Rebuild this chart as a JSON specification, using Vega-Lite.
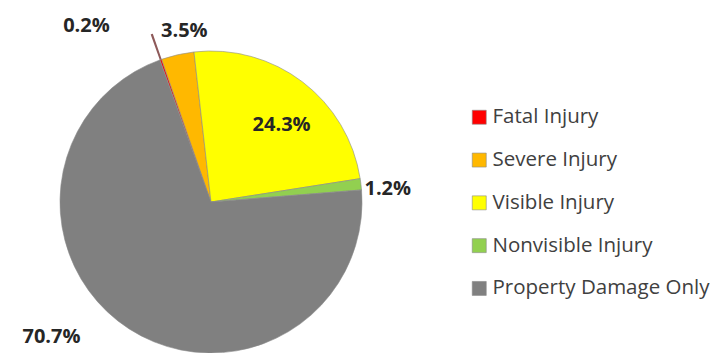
{
  "$schema": "https://vega.github.io/schema/vega-lite/v6.json",
  "width": 422,
  "height": 396,
  "padding": 0,
  "autosize": {"type": "pad"},
  "background": "white",
  "config": {"view": {"stroke": null}, "font": "Open Sans"},
  "data": {
    "values": [
      {"cat": "Fatal Injury", "pct": 0.2, "rank": 1, "label": "0.2%"},
      {"cat": "Severe Injury", "pct": 3.5, "rank": 2, "label": "3.5%"},
      {"cat": "Visible Injury", "pct": 24.3, "rank": 3, "label": "24.3%"},
      {"cat": "Nonvisible Injury", "pct": 1.2, "rank": 4, "label": "1.2%"},
      {"cat": "Property Damage Only", "pct": 70.7, "rank": 5, "label": "70.7%"}
    ]
  },
  "encoding": {
    "theta": {"field": "pct", "type": "quantitative", "stack": true, "scale": {"range": [-0.3456, 5.9376]}},
    "order": {"field": "rank", "type": "quantitative"},
    "detail": {"field": "cat", "type": "nominal"}
  },
  "layer": [
    {
      "mark": {"type": "arc", "outerRadius": 151, "stroke": "#8a8a8a", "strokeWidth": 0.6},
      "encoding": {
        "color": {
          "field": "cat",
          "type": "nominal",
          "sort": null,
          "scale": {
            "domain": ["Fatal Injury", "Severe Injury", "Visible Injury", "Nonvisible Injury", "Property Damage Only"],
            "range": ["#ff0000", "#ffb800", "#ffff00", "#92d050", "#808080"]
          },
          "legend": {
            "title": null,
            "orient": "none",
            "legendX": 469,
            "legendY": 103,
            "symbolType": "square",
            "symbolSize": 196,
            "symbolStrokeColor": "#8a8a8a",
            "symbolStrokeWidth": 0.6,
            "labelFont": "Open Sans",
            "labelFontSize": 20.5,
            "labelColor": "#404040",
            "labelOffset": 3,
            "labelLimit": 0,
            "rowPadding": 21.8,
            "padding": 0
          }
        }
      }
    },
    {
      "mark": {"type": "arc", "radius": 178, "radius2": 151},
      "encoding": {
        "fill": {"condition": {"test": "datum.cat === 'Fatal Injury'", "value": "#8e5a5a"}, "value": "transparent"}
      }
    },
    {
      "mark": {"type": "text", "radius": 185, "dx": -63, "dy": -2, "fontSize": 20, "fontWeight": "bold", "fill": "#262626", "align": "center", "baseline": "middle"},
      "encoding": {"text": {"condition": {"test": "datum.cat === 'Fatal Injury'", "field": "label", "type": "nominal"}, "value": ""}}
    },
    {
      "mark": {"type": "text", "radius": 175, "dx": 12, "dy": 0, "fontSize": 20, "fontWeight": "bold", "fill": "#262626", "align": "center", "baseline": "middle"},
      "encoding": {"text": {"condition": {"test": "datum.cat === 'Severe Injury'", "field": "label", "type": "nominal"}, "value": ""}}
    },
    {
      "mark": {"type": "text", "radius": 100, "dx": 10, "dy": 3, "fontSize": 20, "fontWeight": "bold", "fill": "#262626", "align": "center", "baseline": "middle"},
      "encoding": {"text": {"condition": {"test": "datum.cat === 'Visible Injury'", "field": "label", "type": "nominal"}, "value": ""}}
    },
    {
      "mark": {"type": "text", "radius": 178, "dx": 0, "dy": 8, "fontSize": 20, "fontWeight": "bold", "fill": "#262626", "align": "center", "baseline": "middle"},
      "encoding": {"text": {"condition": {"test": "datum.cat === 'Nonvisible Injury'", "field": "label", "type": "nominal"}, "value": ""}}
    },
    {
      "mark": {"type": "text", "radius": 180, "dx": -62, "dy": -16, "fontSize": 20, "fontWeight": "bold", "fill": "#262626", "align": "center", "baseline": "middle"},
      "encoding": {"text": {"condition": {"test": "datum.cat === 'Property Damage Only'", "field": "label", "type": "nominal"}, "value": ""}}
    }
  ]
}
